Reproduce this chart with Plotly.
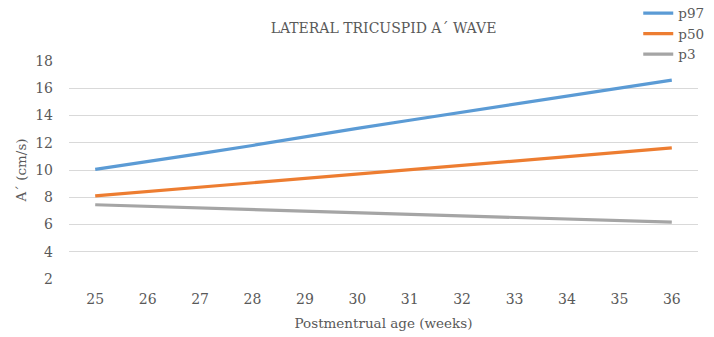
import plotly.graph_objects as go

weeks = ["25", "26", "27", "28", "29", "30", "31", "32", "33", "34", "35", "36"]
p97 = [10.05, 10.6, 11.2, 11.8, 12.45, 13.05, 13.65, 14.25, 14.85, 15.4, 16.0, 16.6]
p50 = [8.1, 8.42, 8.74, 9.06, 9.38, 9.7, 10.02, 10.34, 10.66, 10.98, 11.3, 11.62]
p3 = [7.45, 7.33, 7.22, 7.1, 6.98, 6.87, 6.75, 6.64, 6.52, 6.4, 6.29, 6.17]
y_ticks = [2, 4, 6, 8, 10, 12, 14, 16, 18]

FONT = "DejaVu Serif"
TXT = "#595959"

fig = go.Figure()
for name, vals, col in [("p97", p97, "#5B9BD5"), ("p50", p50, "#ED7D31"), ("p3", p3, "#A5A5A5")]:
    fig.add_trace(go.Scatter(x=weeks, y=vals, mode="lines", name=name,
                             line=dict(color=col, width=3.2)))

fig.update_layout(
    width=714, height=337,
    paper_bgcolor="white", plot_bgcolor="white",
    margin=dict(l=69, r=16, t=61, b=58, autoexpand=False),
    title=dict(text="LATERAL TRICUSPID A´ WAVE", x=0.5, xref="paper", xanchor="center",
               y=1 - 28 / 337, yanchor="middle",
               font=dict(family=FONT, size=14, color=TXT)),
    font=dict(family=FONT, size=13, color=TXT),
    legend=dict(x=0.905, y=1.29, xanchor="left", yanchor="top",
                bgcolor="rgba(0,0,0,0)", tracegroupgap=0,
                font=dict(family=FONT, size=13.5, color=TXT),
                itemwidth=30),
    showlegend=True,
)
fig.update_xaxes(type="category", range=[-0.5, 11.5], showgrid=False, zeroline=False, showline=False, ticks="",
                 ticklabelstandoff=10,
                 title=dict(text="Postmentrual age (weeks)", font=dict(family=FONT, size=13.5, color=TXT), standoff=12),
                 tickfont=dict(family=FONT, size=14, color=TXT))
fig.update_yaxes(range=[2, 18], tickvals=y_ticks, showgrid=True, gridcolor="#D9D9D9", gridwidth=1,
                 zeroline=False, showline=False, ticks="", ticklabelstandoff=15,
                 title=dict(text="A´ (cm/s)", font=dict(family=FONT, size=13.5, color=TXT), standoff=5),
                 tickfont=dict(family=FONT, size=14, color=TXT))

fig.write_html("out.html")
